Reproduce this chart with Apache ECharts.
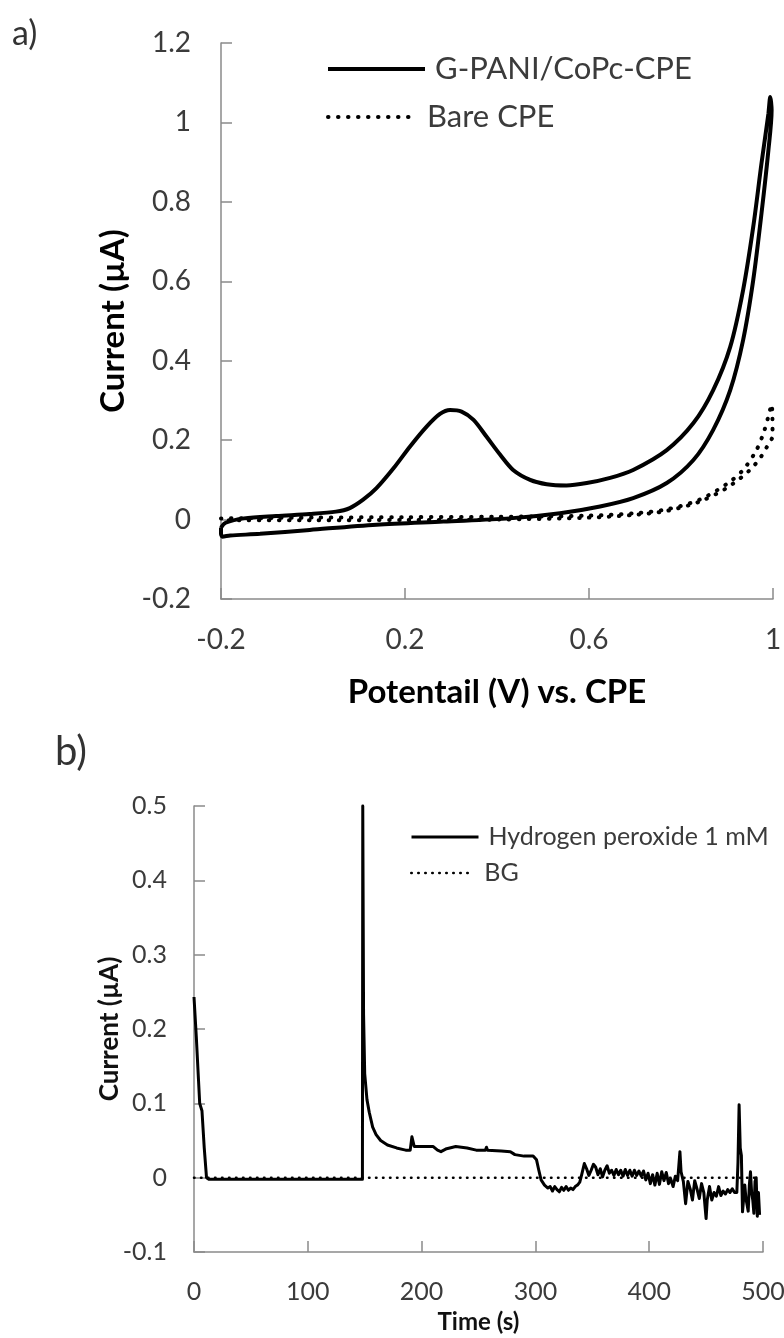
<!DOCTYPE html>
<html>
<head>
<meta charset="utf-8">
<script src="https://cdn.jsdelivr.net/npm/echarts@6/dist/echarts.min.js"></script>
<style>
html, body { margin: 0; padding: 0; background: #fff; }
#main { width: 784px; height: 1338px; }
</style>
</head>
<body>
<div id="main"></div>
<script>
// a) cyclic voltammetry, G-PANI/CoPc-CPE (forward scan, then return scan)
var cvPotential = [-0.2, -0.19, -0.15, -0.08, -0.007, 0.05, 0.08, 0.109, 0.138, 0.175, 0.211, 0.247, 0.276, 0.298, 0.323, 0.349, 0.377, 0.407, 0.435, 0.472, 0.508, 0.551, 0.595, 0.646, 0.696, 0.769, 0.827, 0.87, 0.907, 0.935, 0.957, 0.975, 0.99, 0.994,
                   0.997, 0.99, 0.975, 0.957, 0.935, 0.907, 0.87, 0.827, 0.769, 0.696, 0.624, 0.537, 0.428, 0.283, 0.138, -0.007, -0.115, -0.18, -0.197, -0.2, -0.2];
var cvCurrent = [-0.02, -0.008, 0.003, 0.009, 0.014, 0.02, 0.029, 0.05, 0.079, 0.129, 0.184, 0.234, 0.266, 0.276, 0.272, 0.251, 0.209, 0.163, 0.125, 0.1, 0.089, 0.086, 0.092, 0.105, 0.125, 0.175, 0.243, 0.326, 0.435, 0.578, 0.737, 0.897, 1.022, 1.064,
                 1.031, 0.93, 0.771, 0.603, 0.452, 0.326, 0.226, 0.15, 0.092, 0.054, 0.033, 0.016, 0.003, -0.005, -0.013, -0.026, -0.036, -0.04, -0.043, -0.035, -0.02];
// a) bare CPE
var barePotential = [-0.2, 0, 0.2, 0.4, 0.5, 0.6, 0.7, 0.77, 0.84, 0.9, 0.935, 0.964, 0.98, 0.99, 0.997,
                     0.999, 0.99, 0.975, 0.95, 0.9, 0.84, 0.77, 0.7, 0.6, 0.4, 0.2, 0, -0.2];
var bareCurrent = [0.003, 0.005, 0.006, 0.007, 0.008, 0.01, 0.016, 0.026, 0.05, 0.09, 0.125, 0.175, 0.22, 0.26, 0.29,
                   0.21, 0.19, 0.16, 0.125, 0.08, 0.045, 0.022, 0.012, 0.005, 0.0, -0.001, -0.002, -0.002];

// b) amperometric response
var timeS = [0, 2, 4, 5, 6, 7, 9, 11, 13, 20, 40, 60, 80, 100, 120, 140, 148, 148.3, 149, 150, 152, 154, 157, 160, 164, 170, 178, 186, 190, 191.5, 192.5, 193.5,
             200, 210, 214, 217, 222, 230, 240, 248, 256, 257, 258, 270, 278, 282, 290, 298, 301, 303, 305, 308, 311, 313, 315, 317, 319, 321, 323, 325, 327, 329,
             331, 333, 335, 337, 339, 341, 343, 345, 347, 349, 351, 353, 355, 357, 359, 361, 363, 365, 367, 369, 371, 373, 375, 377, 379, 381, 383, 385, 387, 389,
             391, 393, 395, 397, 399, 401, 403, 405, 407, 409, 411, 413, 415, 417, 419, 421, 423, 425, 427, 428, 430, 432, 434, 436, 438, 440, 442, 444, 446, 448,
             450, 451, 453, 455, 457, 459, 461, 463, 465, 467, 469, 471, 473, 475, 477, 478, 479, 480, 481, 482, 484, 485, 487, 488, 489, 490, 491, 492, 493, 494,
             495, 496, 497];
var h2o2Current = [0.243, 0.19, 0.13, 0.1, 0.098, 0.09, 0.04, 0.0, -0.002, -0.002, -0.002, -0.002, -0.002, -0.002, -0.002, -0.002, -0.002, 0.5, 0.22, 0.14, 0.105, 0.088, 0.068, 0.058, 0.05, 0.044, 0.04, 0.037, 0.037, 0.055, 0.055, 0.042,
                   0.042, 0.042, 0.037, 0.035, 0.039, 0.042, 0.04, 0.037, 0.037, 0.041, 0.037, 0.036, 0.035, 0.031, 0.029, 0.029, 0.024, 0.01, -0.003, -0.01, -0.014, -0.012, -0.018, -0.012, -0.016, -0.019, -0.013, -0.017, -0.012, -0.017,
                   -0.014, -0.016, -0.012, -0.01, -0.006, 0.006, 0.019, 0.012, 0.003, 0.01, 0.018, 0.014, 0.004, 0.012, 0.001, 0.01, 0.016, 0.006, 0.01, 0.003, 0.011, 0.004, 0.01, 0.002, 0.011, 0.003, 0.01, 0.002, 0.01, 0.003,
                   0.009, 0.002, 0.009, -0.003, 0.006, -0.008, 0.004, -0.01, 0.006, -0.009, 0.008, -0.004, 0.007, -0.008, -0.002, -0.012, 0.002, -0.004, 0.035, 0.008, -0.005, -0.035, -0.005, -0.015, -0.03, -0.004, -0.015, -0.028, -0.008, -0.02,
                   -0.055, -0.03, -0.012, -0.03, -0.02, -0.025, -0.012, -0.024, -0.018, -0.022, -0.016, -0.02, -0.015, -0.02, -0.02, 0.02, 0.098, 0.04, 0.03, -0.046, -0.01, -0.028, -0.045, -0.01, 0.008, -0.02, -0.03, -0.048, -0.005, 0.0,
                   -0.052, -0.02, -0.05];
var bgTime = [0, 100, 200, 300, 400, 497];
var bgCurrent = [0, 0, 0, 0, 0, 0];

function pairs(xs, ys) {
    return xs.map(function (x, i) { return [x, ys[i]]; });
}

var chart = echarts.init(document.getElementById('main'));
var axisGray = '#8a8a8a', labelGray = '#3b3b3b', font = 'Lato';

function axisCommon(gridIndex, labelSize, margin) {
    return {
        gridIndex: gridIndex,
        type: 'value',
        nameLocation: 'middle',
        nameMoveOverlap: false,
        axisLine: { onZero: false, lineStyle: { color: axisGray, width: 1.5 } },
        axisTick: { inside: true, length: 11, lineStyle: { color: axisGray, width: 1.5 } },
        axisLabel: { margin: margin, fontFamily: font, fontSize: labelSize, color: labelGray },
        splitLine: { show: false }
    };
}

function legendItem(name, left, top, width, size, lineH, ls) {
    return {
        data: [name], left: left, top: top, padding: 0, orient: 'vertical',
        itemWidth: width, itemHeight: 14,
        itemStyle: { opacity: 0 },
        lineStyle: ls,
        textStyle: { fontFamily: font, fontSize: size, lineHeight: lineH, color: labelGray, padding: [0, 0, 0, 5] }
    };
}

var xa = echarts.util.merge(axisCommon(0, 28, 27), {
    min: -0.2, max: 1, interval: 0.4,
    name: 'Potentail (V) vs. CPE', nameGap: 77,
    nameTextStyle: { fontFamily: font, fontWeight: 'bold', fontSize: 33, color: '#000' }
});
var ya = echarts.util.merge(axisCommon(0, 28, 30), {
    min: -0.2, max: 1.2, interval: 0.2,
    name: 'Current (µA)', nameGap: 91,
    nameTextStyle: { fontFamily: font, fontWeight: 'bold', fontSize: 33, color: '#000' }
});
var xb = echarts.util.merge(axisCommon(1, 25, 27), {
    min: 0, max: 500, interval: 100,
    name: 'Time (s)', nameGap: 58,
    nameTextStyle: { fontFamily: font, fontWeight: 'bold', fontSize: 24, color: '#111' }
});
var yb = echarts.util.merge(axisCommon(1, 25, 27), {
    min: -0.1, max: 0.5, interval: 0.1,
    name: 'Current (µA)', nameGap: 71,
    nameTextStyle: { fontFamily: font, fontWeight: 'bold', fontSize: 26, color: '#111' }
});

var option = {
    animation: false,
    backgroundColor: '#fff',
    grid: [
        { left: 221, top: 43, width: 552, height: 556, outerBoundsMode: 'none' },
        { left: 194, top: 806, width: 569, height: 446, outerBoundsMode: 'none' }
    ],
    xAxis: [xa, xb],
    yAxis: [ya, yb],
    legend: [
        legendItem('G-PANI/CoPc-CPE', 326, 50, 97, 31, 38, { color: '#000', width: 4, type: 'solid' }),
        legendItem('Bare CPE', 326, 98, 89, 31, 38, { color: '#000', width: 4, type: [0.5, 9.5], cap: 'round' }),
        legendItem('Hydrogen peroxide 1 mM', 410, 822, 67, 25, 30, { color: '#000', width: 3, type: 'solid' }),
        legendItem('BG', 410, 858, 63, 25, 30, { color: '#000', width: 2.5, type: [0.5, 6.5], cap: 'round' })
    ],
    graphic: [
        { type: 'text', left: 12, top: 17, style: { text: 'a)', font: '34px Lato', fill: '#333' } },
        { type: 'text', left: 55, top: 732, style: { text: 'b)', font: '40px Lato', fill: '#333' } }
    ],
    series: [
        {
            name: 'G-PANI/CoPc-CPE', type: 'line', xAxisIndex: 0, yAxisIndex: 0,
            data: pairs(cvPotential, cvCurrent), smooth: 0.3, symbol: 'none', clip: false,
            lineStyle: { color: '#000', width: 4 }, z: 3
        },
        {
            name: 'Bare CPE', type: 'line', xAxisIndex: 0, yAxisIndex: 0,
            data: pairs(barePotential, bareCurrent), smooth: 0.3, symbol: 'none', clip: false,
            lineStyle: { color: '#000', width: 4, type: [0.5, 9.5], cap: 'round' }, z: 2
        },
        {
            name: 'Hydrogen peroxide 1 mM', type: 'line', xAxisIndex: 1, yAxisIndex: 1,
            data: pairs(timeS, h2o2Current), symbol: 'none', clip: false,
            lineStyle: { color: '#000', width: 3, join: 'round' }, z: 3
        },
        {
            name: 'BG', type: 'line', xAxisIndex: 1, yAxisIndex: 1,
            data: pairs(bgTime, bgCurrent), symbol: 'none', clip: false,
            lineStyle: { color: '#000', width: 2.5, type: [0.5, 6.5], cap: 'round' }, z: 2
        }
    ]
};
chart.setOption(option);
window.addEventListener('resize', chart.resize);
</script>
</body>
</html>
